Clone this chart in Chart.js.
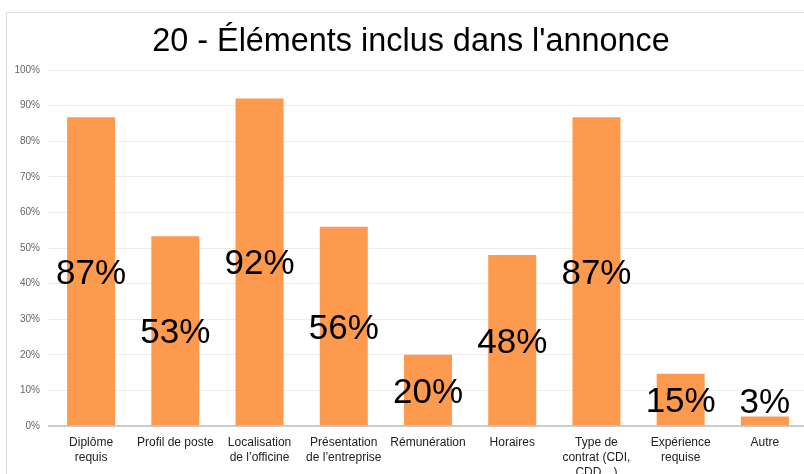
<!DOCTYPE html>
<html lang="fr">
<head>
<meta charset="utf-8">
<title>20 - Éléments inclus dans l'annonce</title>
<script src="https://cdn.jsdelivr.net/npm/chart.js@4.4.1/dist/chart.umd.min.js"></script>
<style>
    html, body { margin: 0; padding: 0; background: #fff; overflow: hidden; }
    #frame { position: absolute; left: 6px; top: 12px; width: 900px; height: 600px; border: 1px solid #dedede; }
    #chart { position: absolute; left: 0; top: 0; }
</style>
</head>
<body>
<div id="frame"></div>
<canvas id="chart" width="822" height="474"></canvas>
<script>
const chartTitle = "20 - Éléments inclus dans l'annonce";
const categories = [
    ["Diplôme", "requis"],
    "Profil de poste",
    ["Localisation", "de l’officine"],
    ["Présentation", "de l’entreprise"],
    "Rémunération",
    "Horaires",
    ["Type de", "contrat (CDI,", "CDD…)"],
    ["Expérience", "requise"],
    "Autre"
];
const percentages = [86.7, 53.3, 92, 56, 20, 48, 86.7, 14.7, 2.7];
const yTicks = [0, 10, 20, 30, 40, 50, 60, 70, 80, 90, 100];

const FONT = "'Liberation Sans', Arial, sans-serif";

// title centred on the full card, not on the plot
const cardTitle = {
    id: "cardTitle",
    afterDraw(chart) {
        const ctx = chart.ctx;
        ctx.save();
        ctx.font = "32.4px " + FONT;
        ctx.fillStyle = "#000";
        ctx.textAlign = "center";
        ctx.textBaseline = "alphabetic";
        ctx.fillText(chartTitle, 411, 51);
        ctx.restore();
    }
};

// big value labels centred in each bar
const barLabels = {
    id: "barLabels",
    afterDatasetsDraw(chart) {
        const ctx = chart.ctx;
        const meta = chart.getDatasetMeta(0);
        ctx.save();
        ctx.font = "35px " + FONT;
        ctx.fillStyle = "#000";
        ctx.textAlign = "center";
        ctx.textBaseline = "alphabetic";
        meta.data.forEach((bar, i) => {
            let y = (bar.y + bar.base) / 2;
            y = Math.min(y, bar.base - 25);
            ctx.fillText(Math.round(percentages[i]) + "%", bar.x, y + 12.5);
        });
        ctx.restore();
    }
};

document.addEventListener("DOMContentLoaded", () => {
    const ctx = document.getElementById("chart").getContext("2d");
    new Chart(ctx, {
        type: "bar",
        data: {
            labels: categories,
            datasets: [{
                data: percentages,
                backgroundColor: "#fd9a4d",
                barPercentage: 0.57,
                categoryPercentage: 1
            }]
        },
        options: {
            responsive: false,
            animation: false,
            devicePixelRatio: 1,
            layout: { padding: { left: 0, right: 15, top: 70, bottom: 0 } },
            plugins: {
                legend: { display: false },
                tooltip: { enabled: false },
                title: { display: false }
            },
            scales: {
                x: {
                    grid: { display: false, drawTicks: false },
                    border: { color: "#cccccc", width: 2 },
                    ticks: {
                        color: "#222",
                        padding: 9,
                        maxRotation: 0,
                        autoSkip: false,
                        font: { family: FONT, size: 12, lineHeight: 1.25 }
                    },
                    afterFit(scale) { scale.height = 48; }
                },
                y: {
                    min: 0,
                    max: 100,
                    afterBuildTicks(scale) { scale.ticks = yTicks.map(v => ({ value: v })); },
                    grid: { color: "#ececec", drawTicks: false },
                    border: { display: false },
                    ticks: {
                        color: "#666",
                        padding: 9,
                        font: { family: FONT, size: 10 },
                        callback: v => v + "%"
                    },
                    afterFit(scale) { scale.width = 49; }
                }
            }
        },
        plugins: [barLabels, cardTitle]
    });
});
</script>
</body>
</html>
